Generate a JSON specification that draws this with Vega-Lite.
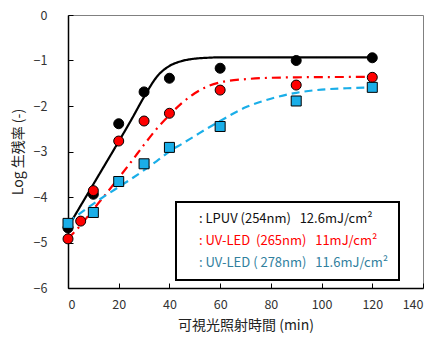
{
  "$schema": "https://vega.github.io/schema/vega-lite/v6.json",
  "width": 355,
  "height": 273,
  "autosize": {"type": "none"},
  "padding": {"left": 68, "top": 15, "right": 11, "bottom": 51},
  "background": "white",
  "config": {
    "view": {"stroke": "#808080", "strokeWidth": 1},
    "font": "Noto Sans CJK JP",
    "axis": {"grid": false, "domainColor": "black", "domainWidth": 1.5, "tickColor": "black", "labelColor": "#333333", "labelFontSize": 12.5, "labelFont": "Noto Sans CJK JP", "titleFont": "Noto Sans CJK JP", "titleFontSize": 14, "titleFontWeight": "normal", "titleColor": "#222222"}
  },
  "datasets": {
    "points": [
      {"series": "LPUV", "t": 0, "v": -4.68},
      {"series": "LPUV", "t": 10, "v": -3.94},
      {"series": "LPUV", "t": 20, "v": -2.39},
      {"series": "LPUV", "t": 30, "v": -1.69},
      {"series": "LPUV", "t": 40, "v": -1.39},
      {"series": "LPUV", "t": 60, "v": -1.17},
      {"series": "LPUV", "t": 90, "v": -1.0},
      {"series": "LPUV", "t": 120, "v": -0.94},
      {"series": "UV265", "t": 0, "v": -4.92},
      {"series": "UV265", "t": 5, "v": -4.53},
      {"series": "UV265", "t": 10, "v": -3.86},
      {"series": "UV265", "t": 20, "v": -2.77},
      {"series": "UV265", "t": 30, "v": -2.33},
      {"series": "UV265", "t": 40, "v": -2.16},
      {"series": "UV265", "t": 60, "v": -1.65},
      {"series": "UV265", "t": 90, "v": -1.54},
      {"series": "UV265", "t": 120, "v": -1.37},
      {"series": "UV278", "t": 0, "v": -4.58},
      {"series": "UV278", "t": 10, "v": -4.34},
      {"series": "UV278", "t": 20, "v": -3.66},
      {"series": "UV278", "t": 30, "v": -3.27},
      {"series": "UV278", "t": 40, "v": -2.91},
      {"series": "UV278", "t": 60, "v": -2.45},
      {"series": "UV278", "t": 90, "v": -1.89},
      {"series": "UV278", "t": 120, "v": -1.59}
    ],
    "curves": [
      {"series": "LPUV", "t": 0, "v": -4.66},
      {"series": "LPUV", "t": 5, "v": -4.19},
      {"series": "LPUV", "t": 10, "v": -3.72},
      {"series": "LPUV", "t": 15, "v": -3.25},
      {"series": "LPUV", "t": 20, "v": -2.78},
      {"series": "LPUV", "t": 25, "v": -2.3},
      {"series": "LPUV", "t": 30, "v": -1.8},
      {"series": "LPUV", "t": 35, "v": -1.36},
      {"series": "LPUV", "t": 40, "v": -1.12},
      {"series": "LPUV", "t": 45, "v": -1.01},
      {"series": "LPUV", "t": 50, "v": -0.96},
      {"series": "LPUV", "t": 55, "v": -0.94},
      {"series": "LPUV", "t": 60, "v": -0.93},
      {"series": "LPUV", "t": 90, "v": -0.93},
      {"series": "LPUV", "t": 120, "v": -0.93},
      {"series": "UV265", "t": 0, "v": -4.91},
      {"series": "UV265", "t": 5, "v": -4.62},
      {"series": "UV265", "t": 10, "v": -4.27},
      {"series": "UV265", "t": 15, "v": -3.93},
      {"series": "UV265", "t": 20, "v": -3.58},
      {"series": "UV265", "t": 25, "v": -3.22},
      {"series": "UV265", "t": 30, "v": -2.85},
      {"series": "UV265", "t": 35, "v": -2.5},
      {"series": "UV265", "t": 40, "v": -2.2},
      {"series": "UV265", "t": 45, "v": -1.93},
      {"series": "UV265", "t": 50, "v": -1.72},
      {"series": "UV265", "t": 55, "v": -1.57},
      {"series": "UV265", "t": 60, "v": -1.48},
      {"series": "UV265", "t": 70, "v": -1.41},
      {"series": "UV265", "t": 80, "v": -1.38},
      {"series": "UV265", "t": 90, "v": -1.37},
      {"series": "UV265", "t": 120, "v": -1.36},
      {"series": "UV278", "t": 0, "v": -4.56},
      {"series": "UV278", "t": 5, "v": -4.35},
      {"series": "UV278", "t": 10, "v": -4.15},
      {"series": "UV278", "t": 15, "v": -3.96},
      {"series": "UV278", "t": 20, "v": -3.78},
      {"series": "UV278", "t": 25, "v": -3.6},
      {"series": "UV278", "t": 30, "v": -3.41},
      {"series": "UV278", "t": 35, "v": -3.21},
      {"series": "UV278", "t": 40, "v": -3.0},
      {"series": "UV278", "t": 45, "v": -2.83},
      {"series": "UV278", "t": 50, "v": -2.66},
      {"series": "UV278", "t": 55, "v": -2.49},
      {"series": "UV278", "t": 60, "v": -2.33},
      {"series": "UV278", "t": 70, "v": -2.03},
      {"series": "UV278", "t": 80, "v": -1.84},
      {"series": "UV278", "t": 90, "v": -1.71},
      {"series": "UV278", "t": 100, "v": -1.64},
      {"series": "UV278", "t": 110, "v": -1.61},
      {"series": "UV278", "t": 120, "v": -1.59}
    ]
  },
  "encoding": {
    "x": {"field": "t", "type": "quantitative", "scale": {"domain": [0, 140], "nice": false, "zero": false}, "axis": {"values": [0, 20, 40, 60, 80, 100, 120, 140], "title": "可視光照射時間 (min)", "tickSize": -5, "labelPadding": 15, "titlePadding": 8}},
    "y": {"field": "v", "type": "quantitative", "scale": {"domain": [-6, 0], "nice": false}, "axis": {"values": [-6, -5, -4, -3, -2, -1, 0], "title": "Log 生残率 (-)", "tickSize": -5, "labelPadding": 26, "titlePadding": 8}}
  },
  "layer": [
    {
      "data": {"name": "curves"},
      "mark": {"type": "line", "strokeWidth": 2.2, "interpolate": "monotone"},
      "encoding": {
        "color": {"field": "series", "type": "nominal", "scale": {"domain": ["LPUV", "UV265", "UV278"], "range": ["#000000", "#FF0000", "#1AAEE8"]},
          "legend": {
            "orient": "none", "legendX": 108, "legendY": 187, "title": null,
            "symbolSize": 0, "symbolStrokeWidth": 0, "symbolOpacity": 0,
            "labelOffset": 0, "padding": 10, "rowPadding": 8,
            "strokeColor": "black", "fillColor": "white",
            "labelFontSize": 13, "labelFont": "Noto Sans CJK JP", "labelLimit": 400,
            "labelExpr": "datum.value === 'LPUV' ? ': LPUV (254nm)\u00a0\u00a0\u00a012.6mJ/cm²' : datum.value === 'UV265' ? ': UV-LED\u00a0\u00a0(265nm)\u00a0\u00a0\u00a011mJ/cm²' : ': UV-LED (\u00a0278nm)\u00a0\u00a0\u00a011.6mJ/cm²'",
            "encode": {
              "labels": {"update": {"fill": {"signal": "datum.value === 'LPUV' ? '#111111' : datum.value === 'UV265' ? '#FF0000' : '#31809E'"}}},
              "legend": {"update": {"strokeWidth": {"value": 2}}}
            }
          }
        },
        "strokeDash": {"field": "series", "type": "nominal", "scale": {"domain": ["LPUV", "UV265", "UV278"], "range": [[1, 0], [9, 5, 2, 5], [8, 5]]}, "legend": null}
      }
    },
    {
      "data": {"name": "points"},
      "mark": {"type": "point", "filled": true, "size": 100, "stroke": "black", "strokeWidth": 1, "opacity": 1},
      "encoding": {
        "color": {"field": "series", "type": "nominal", "legend": null},
        "shape": {"field": "series", "type": "nominal", "scale": {"domain": ["LPUV", "UV265", "UV278"], "range": ["circle", "circle", "square"]}, "legend": null}
      }
    }
  ]
}
